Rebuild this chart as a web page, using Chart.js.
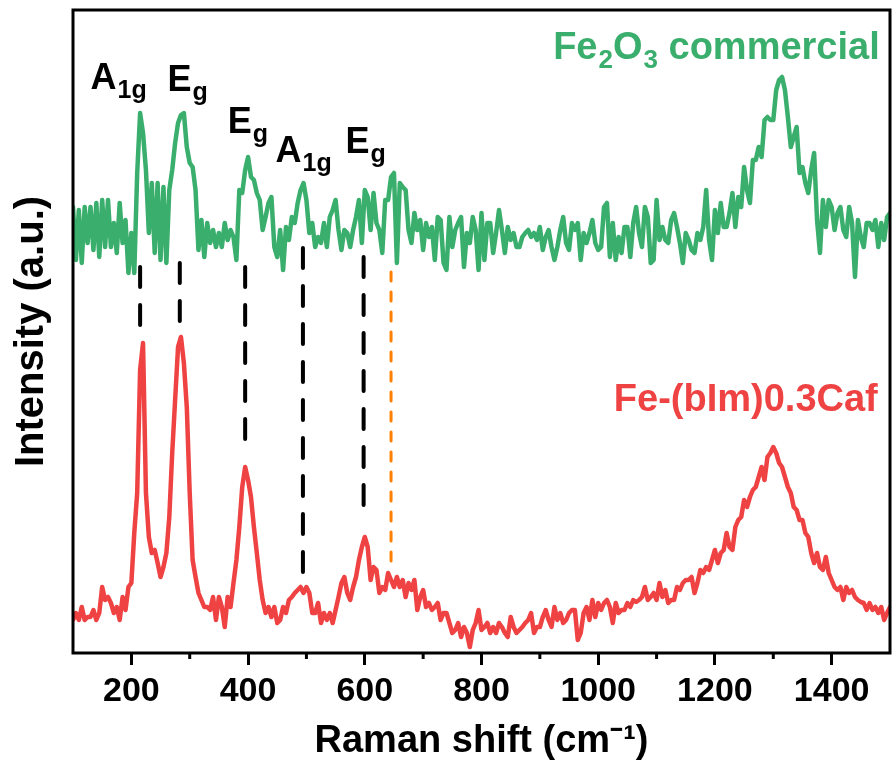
<!DOCTYPE html>
<html lang="en">
<head>
<meta charset="UTF-8">
<title>Raman spectra</title>
<script src="https://cdn.jsdelivr.net/npm/chart.js"></script>
<style>
  html, body { margin: 0; padding: 0; background: #fff; }
  #wrap { width: 892px; height: 768px; }
</style>
</head>
<body>
<div id="wrap"><canvas id="raman" width="892" height="768"></canvas></div>
<script>
// Raman shift grid (cm-1)
const shift = [
  100,105,110,115,120,125,130,135,140,145,150,155,160,165,170,175,180,185,190,195,
  200,205,210,215,220,225,230,235,240,245,250,255,260,265,270,275,280,285,290,295,
  300,305,310,315,320,325,330,335,340,345,350,355,360,365,370,375,380,385,390,395,
  400,405,410,415,420,425,430,435,440,445,450,455,460,465,470,475,480,485,490,495,
  500,505,510,515,520,525,530,535,540,545,550,555,560,565,570,575,580,585,590,595,
  600,605,610,615,620,625,630,635,640,645,650,655,660,665,670,675,680,685,690,695,
  700,705,710,715,720,725,730,735,740,745,750,755,760,765,770,775,780,785,790,795,
  800,805,810,815,820,825,830,835,840,845,850,855,860,865,870,875,880,885,890,895,
  900,905,910,915,920,925,930,935,940,945,950,955,960,965,970,975,980,985,990,995,
  1000,1005,1010,1015,1020,1025,1030,1035,1040,1045,1050,1055,1060,1065,1070,1075,1080,1085,1090,1095,
  1100,1105,1110,1115,1120,1125,1130,1135,1140,1145,1150,1155,1160,1165,1170,1175,1180,1185,1190,1195,
  1200,1205,1210,1215,1220,1225,1230,1235,1240,1245,1250,1255,1260,1265,1270,1275,1280,1285,1290,1295,
  1300,1305,1310,1315,1320,1325,1330,1335,1340,1345,1350,1355,1360,1365,1370,1375,1380,1385,1390,1395,
  1400,1405,1410,1415,1420,1425,1430,1435,1440,1445,1450,1455,1460,1465,1470,1475,1480,1485,1490,1495,
  1500
];

// Fe2O3 commercial (offset trace, a.u.)
const fe2o3Commercial = [
  446,393,443,390,446,410,446,403,450,396,453,406,453,406,430,400,450,410,433,380,
  420,380,480,540,520,483,420,470,400,470,393,466,390,463,483,510,530,538,540,506,
  490,486,463,403,433,396,430,410,423,406,420,406,430,413,423,416,393,463,460,483,
  496,476,473,460,453,423,436,450,456,406,396,423,383,426,413,436,430,450,463,470,
  453,420,430,406,416,410,430,406,436,443,453,423,403,423,
  420,406,423,436,453,410,463,456,423,460,430,423,400,453,453,476,480,390,470,466,
  463,423,410,440,423,433,403,430,416,426,393,436,433,390,383,436,406,423,430,436,
  386,420,410,436,423,383,440,393,430,430,400,420,443,423,400,426,413,420,406,406,
  416,420,423,416,420,413,426,403,416,423,406,393,406,423,436,410,403,430,423,430,
  393,420,410,420,433,410,403,406,446,450,396,430,393,416,
  400,426,426,396,430,446,420,406,446,436,390,393,453,413,426,413,410,433,440,426,
  410,390,420,413,403,400,420,413,426,463,413,393,443,420,450,426,426,440,460,426,
  456,446,486,463,450,493,493,506,496,533,536,533,533,563,573,576,563,536,506,516,
  526,480,486,470,460,483,500,433,400,453,426,453,446,423,440,446,423,416,446,430,
  376,433,416,406,430,430,423,433,406,430,413,436,440
];

// Fe-(bIm)0.3Caf (a.u.)
const feBimCaf = [
  33,40,33,46,33,36,36,43,33,40,66,53,56,50,40,46,33,56,43,66,
  70,120,160,283,310,160,116,100,103,90,76,86,100,136,200,253,306,316,290,246,
  160,93,76,60,53,46,46,43,56,33,56,46,26,56,46,70,93,126,166,186,
  173,156,126,100,73,53,40,46,36,46,30,33,46,40,53,56,60,63,66,60,
  66,60,40,40,50,30,40,33,40,30,43,56,70,76,
  60,53,66,76,93,106,116,106,73,86,83,60,66,63,80,73,66,76,66,73,
  56,70,63,73,43,56,63,46,50,43,46,50,33,40,40,30,20,23,30,16,
  26,20,6,23,30,43,23,26,30,20,26,20,30,26,20,16,36,26,20,23,
  26,30,33,40,20,26,26,36,43,33,26,46,33,40,30,33,40,43,43,13,
  20,40,46,33,53,36,50,43,50,53,46,30,50,40,
  43,43,50,46,53,51,53,56,66,53,56,60,53,70,56,63,50,53,53,66,
  63,70,73,73,76,60,70,83,80,86,83,93,103,90,100,103,120,106,103,126,
  133,136,153,146,156,163,166,176,186,173,196,200,206,200,190,186,176,166,160,146,
  143,133,133,120,116,100,90,100,86,83,96,80,73,66,63,66,53,66,60,63,
  56,53,51,50,43,50,43,46,40,46,33,40,46
];

const majorTicks = [200, 400, 600, 800, 1000, 1200, 1400];
const minorTicks = [300, 500, 700, 900, 1100, 1300];

// hematite modes (black dashes) and the extra band (orange dots)
const modeLines = [
  { x: 215, top: 386, bottom: 328 },
  { x: 283, top: 390, bottom: 330 },
  { x: 395, top: 386, bottom: 206 },
  { x: 494, top: 405, bottom: 70 },
  { x: 598, top: 396, bottom: 138 }
];
const extraLine = { x: 645, top: 381, bottom: 86 };

const peakLabels = [
  { parts: [['A', 0], ['1g', 1]], x: 130, y: 564 },
  { parts: [['E', 0], ['g', 1]], x: 262, y: 562 },
  { parts: [['E', 0], ['g', 1]], x: 365, y: 520 },
  { parts: [['A', 0], ['1g', 1]], x: 447, y: 491 },
  { parts: [['E', 0], ['g', 1]], x: 567, y: 500 }
];

const FONT = "'Liberation Sans', Arial, Helvetica, sans-serif";
const GREEN = '#3AAE6C';
const RED = '#EF4242';
const ORANGE = '#FF8000';

const sampleLabels = [
  { parts: [['Fe', 0], ['2', 1], ['O', 0], ['3', 1], [' commercial', 0]], x: 1479, y: 594, color: GREEN },
  { parts: [['Fe-(bIm)0.3Caf', 0]], x: 1479, y: 242, color: RED }
];

const toPoints = ys => shift.map((x, i) => ({ x: x, y: ys[i] }));

const datasets = [
  { data: toPoints(fe2o3Commercial), borderColor: GREEN, borderWidth: 4.5, pointRadius: 0 },
  { data: toPoints(feBimCaf), borderColor: RED, borderWidth: 4.5, pointRadius: 0 }
];
modeLines.forEach(l => {
  datasets.push({
    data: [{ x: l.x, y: l.top }, { x: l.x, y: l.bottom }],
    borderColor: '#000', borderWidth: 4, borderDash: [20, 18], pointRadius: 0
  });
});
datasets.push({
  data: [{ x: extraLine.x, y: extraLine.top }, { x: extraLine.x, y: extraLine.bottom }],
  borderColor: ORANGE, borderWidth: 3, borderDash: [9, 11], pointRadius: 0
});

// writes a label made of normal and subscript pieces
function drawParts(ctx, parts, px, py, align, big, small) {
  const widths = parts.map(([t, sub]) => {
    ctx.font = 'bold ' + (sub ? small : big) + 'px ' + FONT;
    return ctx.measureText(t).width;
  });
  let cx = px;
  if (align === 'right') cx = px - widths.reduce((a, b) => a + b, 0);
  parts.forEach(([t, sub], i) => {
    ctx.font = 'bold ' + (sub ? small : big) + 'px ' + FONT;
    ctx.fillText(t, cx, sub ? py + 9 : py);
    cx += widths[i] + (sub ? 0 : 1);
  });
}

const decor = {
  id: 'decor',
  afterDraw(chart) {
    const { ctx, chartArea: a, scales: { x, y } } = chart;
    ctx.save();
    ctx.strokeStyle = '#000';
    ctx.lineWidth = 3;
    ctx.strokeRect(a.left, a.top, a.right - a.left, a.bottom - a.top);
    minorTicks.forEach(v => {
      const px = x.getPixelForValue(v);
      ctx.beginPath();
      ctx.moveTo(px, a.bottom);
      ctx.lineTo(px, a.bottom + 6);
      ctx.stroke();
    });
    ctx.textBaseline = 'alphabetic';
    ctx.fillStyle = '#000';
    peakLabels.forEach(l => {
      drawParts(ctx, l.parts, x.getPixelForValue(l.x), y.getPixelForValue(l.y), 'left', 36, 25);
    });
    sampleLabels.forEach(l => {
      ctx.fillStyle = l.color;
      drawParts(ctx, l.parts, x.getPixelForValue(l.x), y.getPixelForValue(l.y), 'right', 38, 26);
    });
    ctx.restore();
  }
};

new Chart(document.getElementById('raman'), {
  type: 'line',
  data: { datasets: datasets },
  plugins: [decor],
  options: {
    responsive: false,
    animation: false,
    layout: { padding: { left: 0, right: 2, top: 10, bottom: 0 } },
    plugins: { legend: { display: false }, tooltip: { enabled: false } },
    elements: { line: { tension: 0, borderJoinStyle: 'round', borderCapStyle: 'round' } },
    scales: {
      x: {
        type: 'linear', min: 100, max: 1500,
        afterBuildTicks: s => { s.ticks = majorTicks.map(v => ({ value: v })); },
        afterFit: s => { s.height = 115; },
        grid: { drawOnChartArea: false, drawTicks: true, tickLength: 12, tickWidth: 3, tickColor: '#000' },
        border: { display: false },
        ticks: {
          color: '#000', padding: 6, maxRotation: 0,
          font: { family: FONT, size: 34, weight: 'bold' },
          callback: v => String(v)
        },
        title: {
          display: true, text: 'Raman shift (cm⁻¹)', color: '#000',
          font: { family: FONT, size: 38, weight: 'bold' },
          padding: { top: 0, bottom: 4 }
        }
      },
      y: {
        min: 0, max: 643,
        afterFit: s => { s.width = 73; },
        grid: { display: false },
        border: { display: false },
        ticks: { display: false },
        title: {
          display: true, text: 'Intensity (a.u.)', color: '#000',
          font: { family: FONT, size: 40, weight: 'bold' },
          padding: { top: 8, bottom: 0 }
        }
      }
    }
  }
});
</script>
</body>
</html>
